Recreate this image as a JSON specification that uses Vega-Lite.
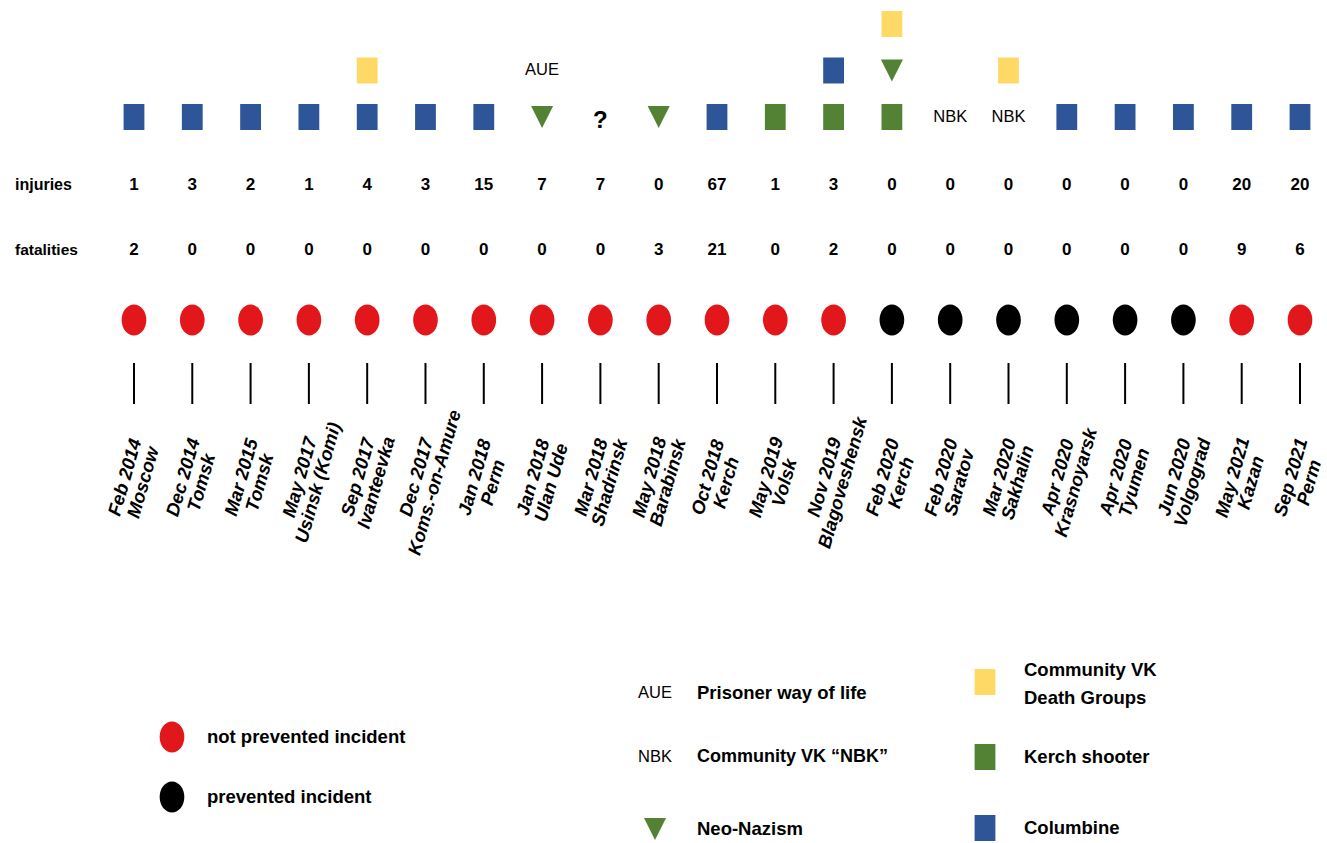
{
  "$schema": "https://vega.github.io/schema/vega-lite/v6.json",
  "width": 1327,
  "height": 843,
  "autosize": {"type": "fit", "contains": "padding"},
  "padding": 0,
  "background": "white",
  "config": {"view": {"stroke": null}},
  "datasets": {
    "events": [
      {"i": 0, "date": "Feb 2014", "place": "Moscow", "status": "not prevented", "injuries": 1, "fatalities": 2},
      {"i": 1, "date": "Dec 2014", "place": "Tomsk", "status": "not prevented", "injuries": 3, "fatalities": 0},
      {"i": 2, "date": "Mar 2015", "place": "Tomsk", "status": "not prevented", "injuries": 2, "fatalities": 0},
      {"i": 3, "date": "May 2017", "place": "Usinsk (Komi)", "status": "not prevented", "injuries": 1, "fatalities": 0},
      {"i": 4, "date": "Sep 2017", "place": "Ivanteevka", "status": "not prevented", "injuries": 4, "fatalities": 0},
      {"i": 5, "date": "Dec 2017", "place": "Koms.-on-Amure", "status": "not prevented", "injuries": 3, "fatalities": 0},
      {"i": 6, "date": "Jan 2018", "place": "Perm", "status": "not prevented", "injuries": 15, "fatalities": 0},
      {"i": 7, "date": "Jan 2018", "place": "Ulan Ude", "status": "not prevented", "injuries": 7, "fatalities": 0},
      {"i": 8, "date": "Mar 2018", "place": "Shadrinsk", "status": "not prevented", "injuries": 7, "fatalities": 0},
      {"i": 9, "date": "May 2018", "place": "Barabinsk", "status": "not prevented", "injuries": 0, "fatalities": 3},
      {"i": 10, "date": "Oct 2018", "place": "Kerch", "status": "not prevented", "injuries": 67, "fatalities": 21},
      {"i": 11, "date": "May 2019", "place": "Volsk", "status": "not prevented", "injuries": 1, "fatalities": 0},
      {"i": 12, "date": "Nov 2019", "place": "Blagoveshensk", "status": "not prevented", "injuries": 3, "fatalities": 2},
      {"i": 13, "date": "Feb 2020", "place": "Kerch", "status": "prevented", "injuries": 0, "fatalities": 0},
      {"i": 14, "date": "Feb 2020", "place": "Saratov", "status": "prevented", "injuries": 0, "fatalities": 0},
      {"i": 15, "date": "Mar 2020", "place": "Sakhalin", "status": "prevented", "injuries": 0, "fatalities": 0},
      {"i": 16, "date": "Apr 2020", "place": "Krasnoyarsk", "status": "prevented", "injuries": 0, "fatalities": 0},
      {"i": 17, "date": "Apr 2020", "place": "Tyumen", "status": "prevented", "injuries": 0, "fatalities": 0},
      {"i": 18, "date": "Jun 2020", "place": "Volgograd", "status": "prevented", "injuries": 0, "fatalities": 0},
      {"i": 19, "date": "May 2021", "place": "Kazan", "status": "not prevented", "injuries": 20, "fatalities": 9},
      {"i": 20, "date": "Sep 2021", "place": "Perm", "status": "not prevented", "injuries": 20, "fatalities": 6}
    ],
    "glyphs": [
      {"i": 0, "level": 1, "kind": "Columbine"},
      {"i": 1, "level": 1, "kind": "Columbine"},
      {"i": 2, "level": 1, "kind": "Columbine"},
      {"i": 3, "level": 1, "kind": "Columbine"},
      {"i": 4, "level": 1, "kind": "Columbine"},
      {"i": 4, "level": 2, "kind": "Death Groups"},
      {"i": 5, "level": 1, "kind": "Columbine"},
      {"i": 6, "level": 1, "kind": "Columbine"},
      {"i": 7, "level": 1, "kind": "Neo-Nazism"},
      {"i": 7, "level": 2, "kind": "AUE"},
      {"i": 8, "level": 1, "kind": "?"},
      {"i": 9, "level": 1, "kind": "Neo-Nazism"},
      {"i": 10, "level": 1, "kind": "Columbine"},
      {"i": 11, "level": 1, "kind": "Kerch shooter"},
      {"i": 12, "level": 1, "kind": "Kerch shooter"},
      {"i": 12, "level": 2, "kind": "Columbine"},
      {"i": 13, "level": 1, "kind": "Kerch shooter"},
      {"i": 13, "level": 2, "kind": "Neo-Nazism"},
      {"i": 13, "level": 3, "kind": "Death Groups"},
      {"i": 14, "level": 1, "kind": "NBK"},
      {"i": 15, "level": 1, "kind": "NBK"},
      {"i": 15, "level": 2, "kind": "Death Groups"},
      {"i": 16, "level": 1, "kind": "Columbine"},
      {"i": 17, "level": 1, "kind": "Columbine"},
      {"i": 18, "level": 1, "kind": "Columbine"},
      {"i": 19, "level": 1, "kind": "Columbine"},
      {"i": 20, "level": 1, "kind": "Columbine"}
    ],
    "legend": [
      {"kind": "not prevented", "label": "not prevented incident"},
      {"kind": "prevented", "label": "prevented incident"},
      {"kind": "AUE", "label": "Prisoner way of life"},
      {"kind": "NBK", "label": "Community VK “NBK”"},
      {"kind": "Neo-Nazism", "label": "Neo-Nazism"},
      {"kind": "Death Groups", "label": "Community VK\nDeath Groups"},
      {"kind": "Kerch shooter", "label": "Kerch shooter"},
      {"kind": "Columbine", "label": "Columbine"}
    ]
  },
  "layer": [
    {
      "data": {"name": "glyphs"},
      "transform": [{"filter": "indexof(['Columbine','Kerch shooter','Death Groups','Neo-Nazism'], datum.kind) >= 0"}],
      "mark": {"type": "point", "filled": true, "opacity": 1, "size": 676, "strokeWidth": 0},
      "encoding": {
        "x": {"field": "i", "type": "quantitative", "scale": {"domain": [-2.298, 20.463], "nice": false, "zero": false}, "axis": null},
        "y": {"field": "level", "type": "quantitative", "scale": {"domain": [-14.613, 3.516], "nice": false, "zero": false}, "axis": null},
        "shape": {"field": "kind", "type": "nominal", "legend": null,
          "scale": {"domain": ["Columbine", "Kerch shooter", "Death Groups", "Neo-Nazism", "not prevented", "prevented"],
                    "range": ["M-0.8,-1H0.8V1H-0.8Z", "M-0.8,-1H0.8V1H-0.8Z", "M-0.8,-1H0.8V1H-0.8Z", "M-0.85,-0.85H0.85L0,0.85Z", "M0,-1.19A0.95,1.19 0 1,1 0,1.19A0.95,1.19 0 1,1 0,-1.19Z", "M0,-1.19A0.95,1.19 0 1,1 0,1.19A0.95,1.19 0 1,1 0,-1.19Z"]}},
        "color": {"field": "kind", "type": "nominal", "legend": null,
          "scale": {"domain": ["Columbine", "Kerch shooter", "Death Groups", "Neo-Nazism", "not prevented", "prevented"],
                    "range": ["#2E5597", "#548235", "#FFD966", "#548235", "#E1171C", "#000000"]}}
      }
    },
    {
      "data": {"name": "glyphs"},
      "transform": [{"filter": "datum.kind == 'AUE' || datum.kind == 'NBK'"}],
      "mark": {"type": "text", "font": "Liberation Sans, Arial, sans-serif", "fontSize": 16.5, "baseline": "middle", "align": "center", "color": "#000000"},
      "encoding": {
        "x": {"field": "i", "type": "quantitative"},
        "y": {"field": "level", "type": "quantitative"},
        "text": {"field": "kind"}
      }
    },
    {
      "data": {"name": "glyphs"},
      "transform": [{"filter": "datum.kind == '?'"}],
      "mark": {"type": "text", "font": "Liberation Sans, Arial, sans-serif", "fontSize": 24, "fontWeight": "bold", "baseline": "middle", "align": "center", "dy": 4, "color": "#000000"},
      "encoding": {
        "x": {"field": "i", "type": "quantitative"},
        "y": {"field": "level", "type": "quantitative"},
        "text": {"field": "kind"}
      }
    },
    {
      "data": {"name": "events"},
      "mark": {"type": "text", "font": "Liberation Sans, Arial, sans-serif", "fontSize": 17, "fontWeight": "bold", "baseline": "middle", "align": "center", "color": "#000000"},
      "encoding": {
        "x": {"field": "i", "type": "quantitative"},
        "y": {"datum": -0.462, "type": "quantitative"},
        "text": {"field": "injuries", "type": "quantitative"}
      }
    },
    {
      "data": {"name": "events"},
      "mark": {"type": "text", "font": "Liberation Sans, Arial, sans-serif", "fontSize": 17, "fontWeight": "bold", "baseline": "middle", "align": "center", "color": "#000000"},
      "encoding": {
        "x": {"field": "i", "type": "quantitative"},
        "y": {"datum": -1.86, "type": "quantitative"},
        "text": {"field": "fatalities", "type": "quantitative"}
      }
    },
    {
      "data": {"values": [{"name": "injuries"}]},
      "mark": {"type": "text", "font": "Liberation Sans, Arial, sans-serif", "fontSize": 16, "fontWeight": "bold", "baseline": "middle", "align": "left", "color": "#000000"},
      "encoding": {
        "x": {"datum": -2.041, "type": "quantitative"},
        "y": {"datum": -0.462, "type": "quantitative"},
        "text": {"field": "name"}
      }
    },
    {
      "data": {"values": [{"name": "fatalities"}]},
      "mark": {"type": "text", "font": "Liberation Sans, Arial, sans-serif", "fontSize": 15.5, "fontWeight": "bold", "baseline": "middle", "align": "left", "color": "#000000"},
      "encoding": {
        "x": {"datum": -2.041, "type": "quantitative"},
        "y": {"datum": -1.86, "type": "quantitative"},
        "text": {"field": "name"}
      }
    },
    {
      "data": {"name": "events"},
      "mark": {"type": "point", "filled": true, "opacity": 1, "size": 676, "strokeWidth": 0},
      "encoding": {
        "x": {"field": "i", "type": "quantitative"},
        "y": {"datum": -3.366, "type": "quantitative"},
        "shape": {"field": "status", "type": "nominal", "legend": null},
        "color": {"field": "status", "type": "nominal", "legend": null}
      }
    },
    {
      "data": {"name": "events"},
      "mark": {"type": "rule", "color": "#000000", "strokeWidth": 2},
      "encoding": {
        "x": {"field": "i", "type": "quantitative"},
        "y": {"datum": -4.29, "type": "quantitative"},
        "y2": {"datum": -5.172}
      }
    },
    {
      "data": {"name": "events"},
      "mark": {"type": "text", "font": "Liberation Sans, Arial, sans-serif", "fontSize": 18.5, "fontWeight": "bold", "fontStyle": "italic", "angle": -74, "baseline": "middle", "align": "center", "dy": -9.5, "color": "#000000"},
      "encoding": {
        "x": {"field": "i", "type": "quantitative"},
        "y": {"datum": -6.806, "type": "quantitative"},
        "text": {"field": "date"}
      }
    },
    {
      "data": {"name": "events"},
      "mark": {"type": "text", "font": "Liberation Sans, Arial, sans-serif", "fontSize": 18.5, "fontWeight": "bold", "fontStyle": "italic", "angle": -74, "baseline": "middle", "align": "center", "dy": 9.5, "color": "#000000"},
      "encoding": {
        "x": {"field": "i", "type": "quantitative"},
        "y": {"datum": -6.806, "type": "quantitative"},
        "text": {"field": "place"}
      }
    },
    {
      "data": {"name": "legend"},
      "transform": [{"filter": "datum.kind == 'not prevented'"}],
      "encoding": {"y": {"datum": -12.333, "type": "quantitative"}},
      "layer": [
        {"mark": {"type": "point", "filled": true, "opacity": 1, "size": 676, "strokeWidth": 0},
         "encoding": {"x": {"datum": 0.652, "type": "quantitative"}, "shape": {"field": "kind", "type": "nominal", "legend": null}, "color": {"field": "kind", "type": "nominal", "legend": null}}},
        {"mark": {"type": "text", "font": "Liberation Sans, Arial, sans-serif", "fontSize": 18.5, "fontWeight": "bold", "baseline": "middle", "align": "left", "color": "#000000"},
         "encoding": {"x": {"datum": 1.252, "type": "quantitative"}, "text": {"field": "label"}}}
      ]
    },
    {
      "data": {"name": "legend"},
      "transform": [{"filter": "datum.kind == 'prevented'"}],
      "encoding": {"y": {"datum": -13.624, "type": "quantitative"}},
      "layer": [
        {"mark": {"type": "point", "filled": true, "opacity": 1, "size": 676, "strokeWidth": 0},
         "encoding": {"x": {"datum": 0.652, "type": "quantitative"}, "shape": {"field": "kind", "type": "nominal", "legend": null}, "color": {"field": "kind", "type": "nominal", "legend": null}}},
        {"mark": {"type": "text", "font": "Liberation Sans, Arial, sans-serif", "fontSize": 18.5, "fontWeight": "bold", "baseline": "middle", "align": "left", "color": "#000000"},
         "encoding": {"x": {"datum": 1.252, "type": "quantitative"}, "text": {"field": "label"}}}
      ]
    },
    {
      "data": {"name": "legend"},
      "transform": [{"filter": "datum.kind == 'AUE'"}],
      "encoding": {"y": {"datum": -11.387, "type": "quantitative"}},
      "layer": [
        {"mark": {"type": "text", "font": "Liberation Sans, Arial, sans-serif", "fontSize": 16.5, "baseline": "middle", "align": "center", "color": "#000000"},
         "encoding": {"x": {"datum": 8.937, "type": "quantitative"}, "text": {"field": "kind"}}},
        {"mark": {"type": "text", "font": "Liberation Sans, Arial, sans-serif", "fontSize": 18.5, "fontWeight": "bold", "baseline": "middle", "align": "left", "color": "#000000"},
         "encoding": {"x": {"datum": 9.657, "type": "quantitative"}, "text": {"field": "label"}}}
      ]
    },
    {
      "data": {"name": "legend"},
      "transform": [{"filter": "datum.kind == 'NBK'"}],
      "encoding": {"y": {"datum": -12.763, "type": "quantitative"}},
      "layer": [
        {"mark": {"type": "text", "font": "Liberation Sans, Arial, sans-serif", "fontSize": 16.5, "baseline": "middle", "align": "center", "color": "#000000"},
         "encoding": {"x": {"datum": 8.937, "type": "quantitative"}, "text": {"field": "kind"}}},
        {"mark": {"type": "text", "font": "Liberation Sans, Arial, sans-serif", "fontSize": 18, "fontWeight": "bold", "baseline": "middle", "align": "left", "color": "#000000"},
         "encoding": {"x": {"datum": 9.657, "type": "quantitative"}, "text": {"field": "label"}}}
      ]
    },
    {
      "data": {"name": "legend"},
      "transform": [{"filter": "datum.kind == 'Neo-Nazism'"}],
      "encoding": {"y": {"datum": -14.312, "type": "quantitative"}},
      "layer": [
        {"mark": {"type": "point", "filled": true, "opacity": 1, "size": 676, "strokeWidth": 0},
         "encoding": {"x": {"datum": 8.937, "type": "quantitative"}, "shape": {"field": "kind", "type": "nominal", "legend": null}, "color": {"field": "kind", "type": "nominal", "legend": null}}},
        {"mark": {"type": "text", "font": "Liberation Sans, Arial, sans-serif", "fontSize": 18.5, "fontWeight": "bold", "baseline": "middle", "align": "left", "color": "#000000"},
         "encoding": {"x": {"datum": 9.657, "type": "quantitative"}, "text": {"field": "label"}}}
      ]
    },
    {
      "data": {"name": "legend"},
      "transform": [{"filter": "datum.kind == 'Death Groups'"}],
      "layer": [
        {"mark": {"type": "point", "filled": true, "opacity": 1, "size": 676, "strokeWidth": 0},
         "encoding": {"x": {"datum": 14.597, "type": "quantitative"}, "y": {"datum": -11.151, "type": "quantitative"}, "shape": {"field": "kind", "type": "nominal", "legend": null}, "color": {"field": "kind", "type": "nominal", "legend": null}}},
        {"mark": {"type": "text", "font": "Liberation Sans, Arial, sans-serif", "fontSize": 18.5, "fontWeight": "bold", "baseline": "middle", "align": "left", "lineBreak": "\n", "lineHeight": 28, "dy": -14, "color": "#000000"},
         "encoding": {"x": {"datum": 15.266, "type": "quantitative"}, "y": {"datum": -11.194, "type": "quantitative"}, "text": {"field": "label"}}}
      ]
    },
    {
      "data": {"name": "legend"},
      "transform": [{"filter": "datum.kind == 'Kerch shooter'"}],
      "encoding": {"y": {"datum": -12.763, "type": "quantitative"}},
      "layer": [
        {"mark": {"type": "point", "filled": true, "opacity": 1, "size": 676, "strokeWidth": 0},
         "encoding": {"x": {"datum": 14.597, "type": "quantitative"}, "shape": {"field": "kind", "type": "nominal", "legend": null}, "color": {"field": "kind", "type": "nominal", "legend": null}}},
        {"mark": {"type": "text", "font": "Liberation Sans, Arial, sans-serif", "fontSize": 18.5, "fontWeight": "bold", "baseline": "middle", "align": "left", "color": "#000000"},
         "encoding": {"x": {"datum": 15.266, "type": "quantitative"}, "text": {"field": "label"}}}
      ]
    },
    {
      "data": {"name": "legend"},
      "transform": [{"filter": "datum.kind == 'Columbine'"}],
      "encoding": {"y": {"datum": -14.29, "type": "quantitative"}},
      "layer": [
        {"mark": {"type": "point", "filled": true, "opacity": 1, "size": 676, "strokeWidth": 0},
         "encoding": {"x": {"datum": 14.597, "type": "quantitative"}, "shape": {"field": "kind", "type": "nominal", "legend": null}, "color": {"field": "kind", "type": "nominal", "legend": null}}},
        {"mark": {"type": "text", "font": "Liberation Sans, Arial, sans-serif", "fontSize": 18.5, "fontWeight": "bold", "baseline": "middle", "align": "left", "color": "#000000"},
         "encoding": {"x": {"datum": 15.266, "type": "quantitative"}, "text": {"field": "label"}}}
      ]
    }
  ]
}
